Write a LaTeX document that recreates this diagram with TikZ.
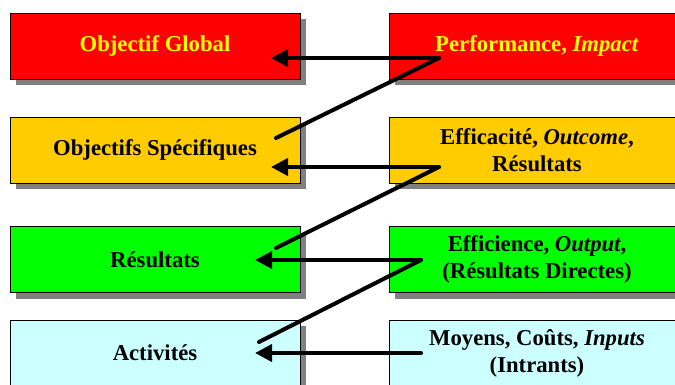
\documentclass[tikz,border=0pt]{standalone}
\usepackage{fontspec}
\setmainfont{Liberation Serif}
\usetikzlibrary{shadows,arrows.meta}
\definecolor{cred}{RGB}{255,0,0}
\definecolor{cgold}{RGB}{255,204,0}
\definecolor{cgreen}{RGB}{0,255,0}
\definecolor{ccyan}{RGB}{204,255,255}
\definecolor{cyel}{RGB}{255,255,0}
\definecolor{cshadow}{RGB}{128,128,128}
\tikzset{
  box/.style={draw=black, line width=0.8pt, minimum width=290pt, minimum height=66pt,
    inner sep=0pt, align=center, font=\fontsize{22.7}{27}\selectfont\bfseries,
    drop shadow={shadow xshift=6pt, shadow yshift=-6pt, fill=cshadow, opacity=1}},
  rbox/.style={box, minimum width=296pt},
  arr/.style={line width=4pt, line cap=round, -{Triangle[length=17pt,width=17pt]}},
  link/.style={line width=4pt, line cap=round}
}
\begin{document}
\begin{tikzpicture}[x=1pt,y=-1pt]
\useasboundingbox (0,0) rectangle (675,385);
\clip (0,0) rectangle (675,385);
\node[box, fill=cred, text=cyel] (og) at (155,46) {Objectif Global};
\node[box, fill=cgold] (os) at (155,150) {Objectifs Spécifiques};
\node[box, fill=cgreen] (re) at (155,259.5) {Résultats};
\node[box, fill=ccyan] (ac) at (155,353) {Activités};
\node[rbox, fill=cred, text=cyel] (pi) at (537,46) {Performance, \textit{Impact}};
\node[rbox, fill=cgold] (eo) at (537,150) {Efficacité, \textit{Outcome},\\Résultats};
\node[rbox, fill=cgreen] (eff) at (537,259.5) {Efficience, \textit{Output},\\(Résultats Directes)};
\node[rbox, fill=ccyan] (mo) at (537,353) {Moyens, Coûts, \textit{Inputs}\\(Intrants)};
% connector points
\coordinate (p1) at (439,58);
\coordinate (t1) at (271,58);
\coordinate (d1) at (276,138);
\coordinate (p2) at (439,167);
\coordinate (t2) at (271,167);
\coordinate (d2) at (276,248);
\coordinate (p3) at (421,260);
\coordinate (t3) at (255,260);
\coordinate (d3) at (259,342);
\coordinate (p4) at (421,353);
\coordinate (t4) at (255,353);
\draw[arr] (p1) -- (t1);
\draw[link] (p1) -- (d1);
\draw[arr] (p2) -- (t2);
\draw[link] (p2) -- (d2);
\draw[arr] (p3) -- (t3);
\draw[link] (p3) -- (d3);
\draw[arr] (p4) -- (t4);
\end{tikzpicture}
\end{document}
